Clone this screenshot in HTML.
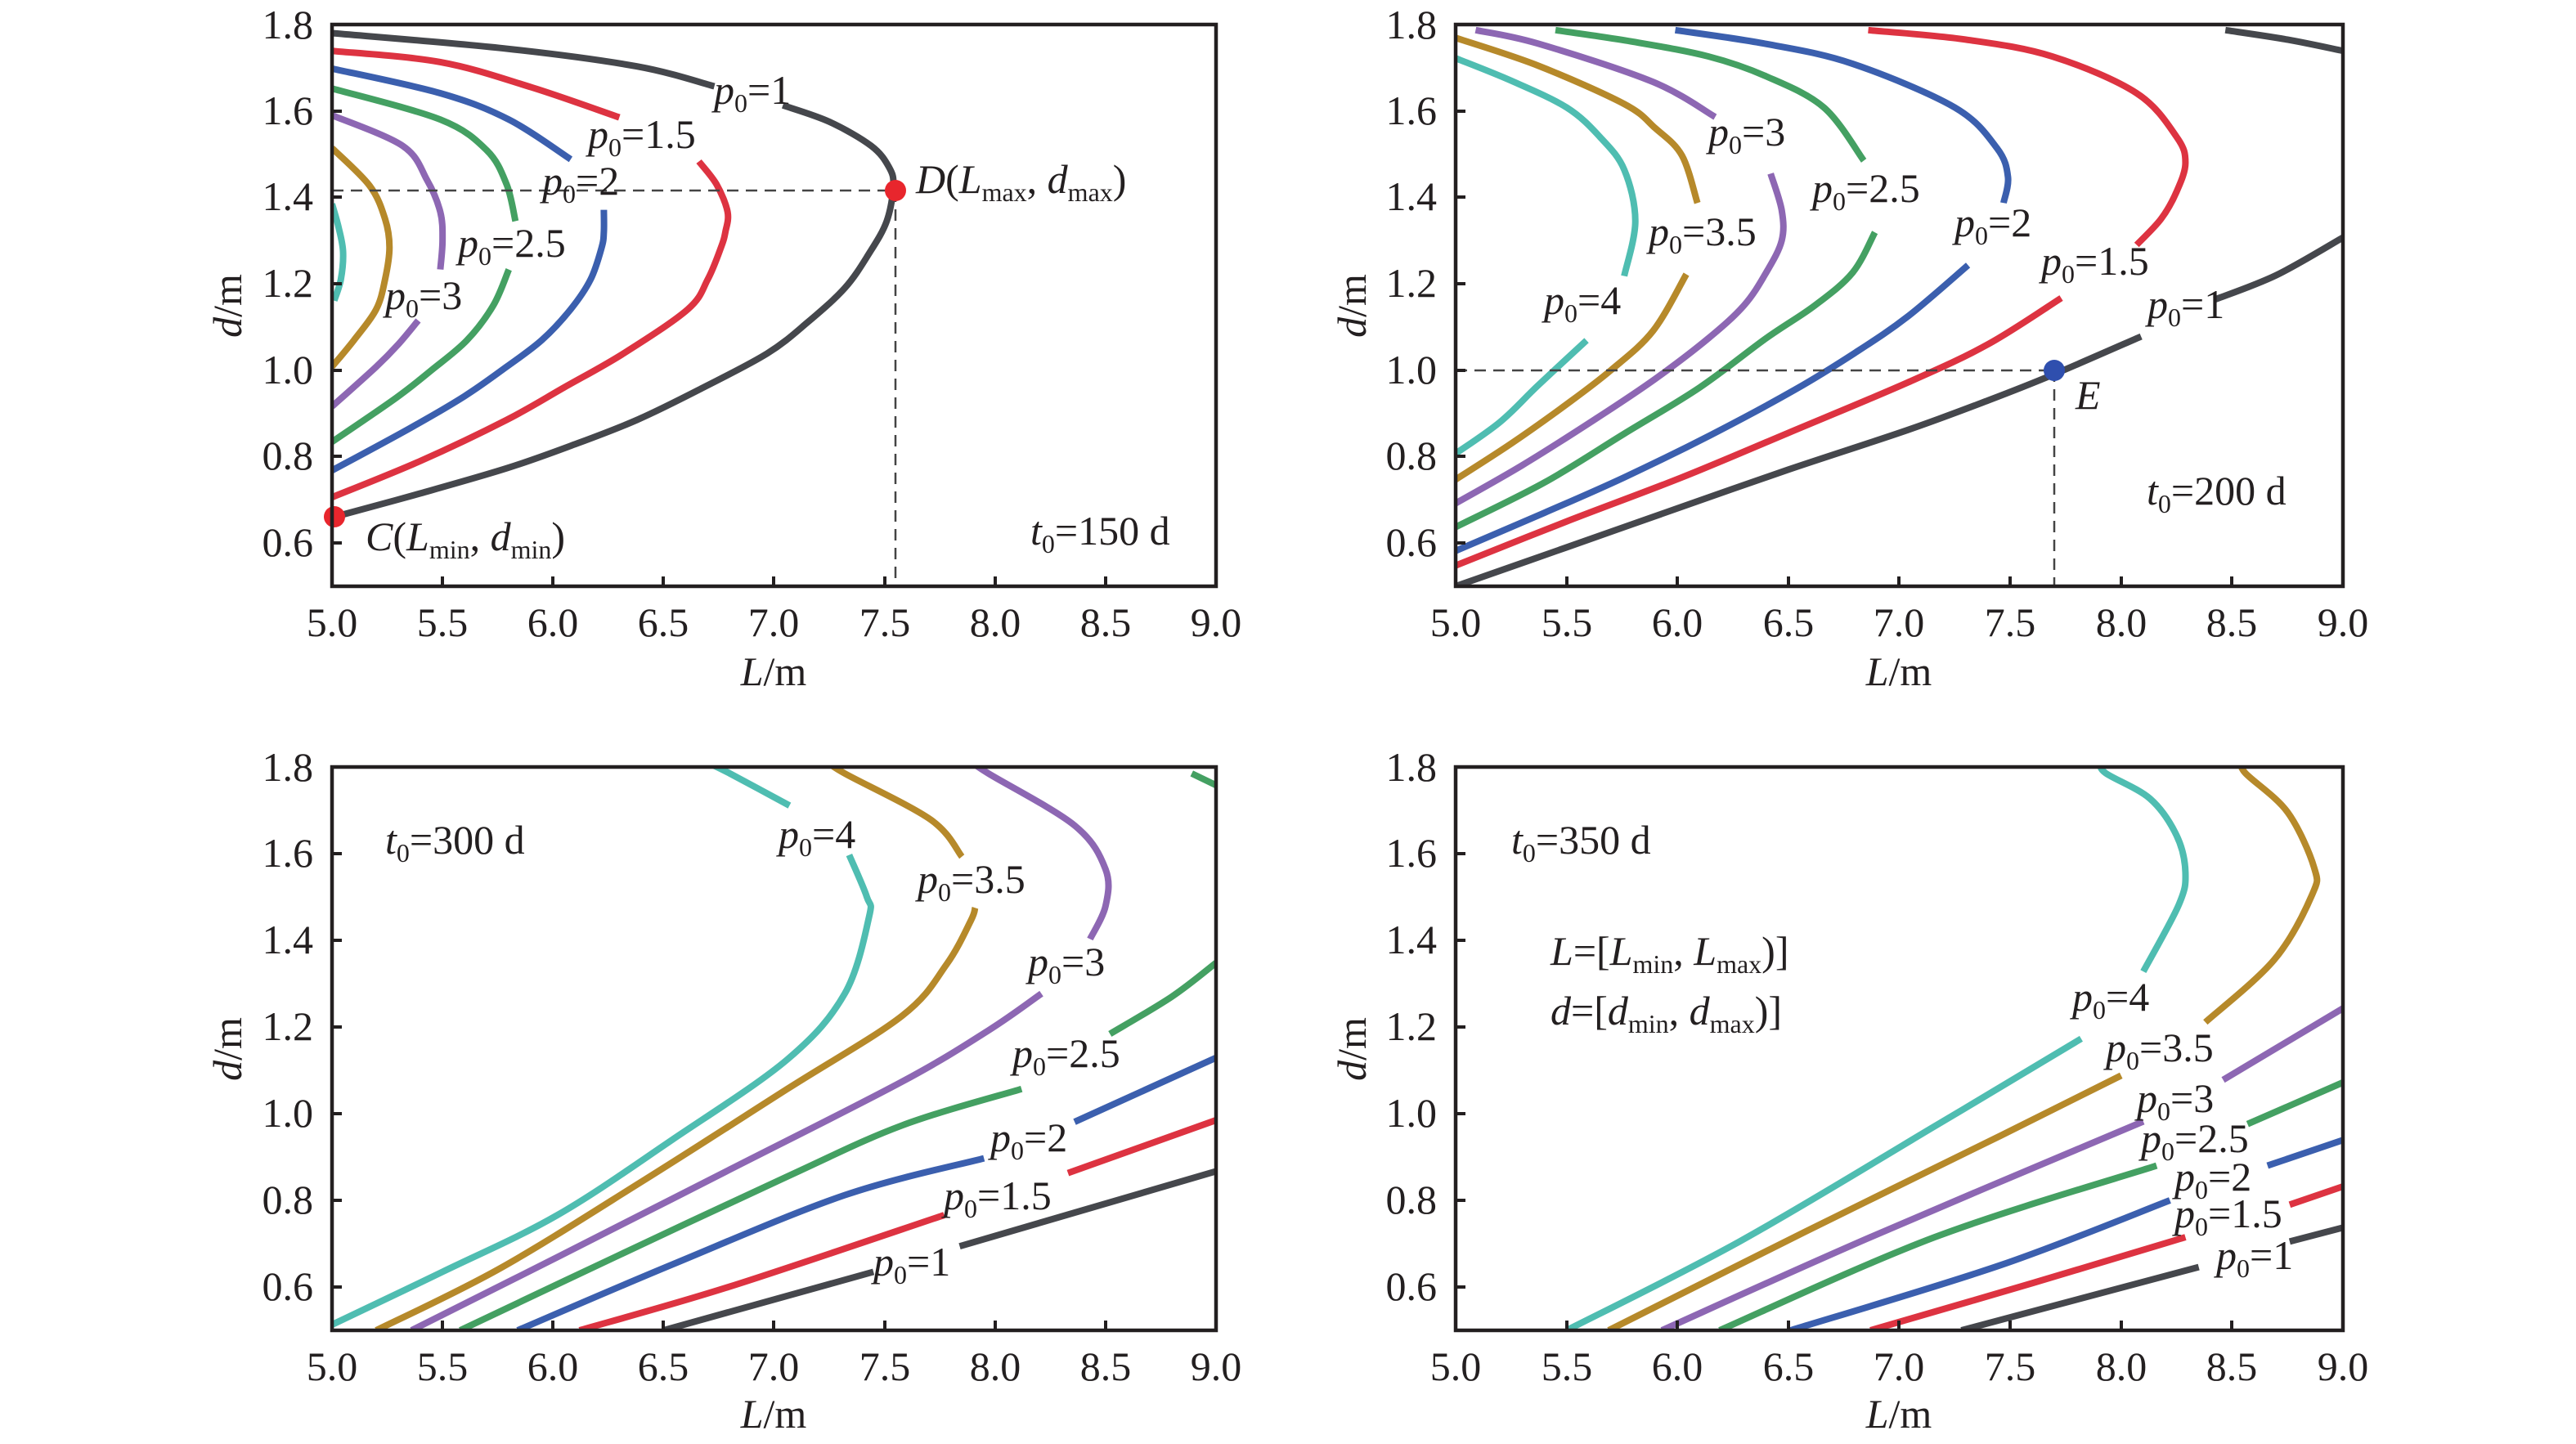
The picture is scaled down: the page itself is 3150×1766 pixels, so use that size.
<!DOCTYPE html>
<html><head><meta charset="utf-8"><style>
html,body{margin:0;padding:0;background:#fff;}
svg{display:block;}
text{font-family:"Liberation Serif","Times New Roman",serif;fill:#231f20;}
.t{font-size:50px;}
.lb{font-size:50px;}
.c{fill:none;stroke-width:8;stroke-linejoin:round;stroke-linecap:butt;vector-effect:non-scaling-stroke;}
.k{stroke:#45474c}.r{stroke:#dd3341}.b{stroke:#3b5fae}.g{stroke:#44a062}.p{stroke:#8d67b3}.o{stroke:#b6892a}.q{stroke:#4fbdb1}
.f{fill:none;stroke:#231f20;stroke-width:4.5;}
.d{fill:none;stroke:#444;stroke-width:2.5;stroke-dasharray:14 9;}
</style></head><body>
<svg id="s" width="3150" height="1766" viewBox="0 0 3150 1766" xmlns="http://www.w3.org/2000/svg">
<defs>
<clipPath id="cp" clipPathUnits="userSpaceOnUse"><rect x="5" y="0.5" width="4" height="1.3"/></clipPath>
</defs>

<!-- Panel 1 -->
<g transform="translate(406,717) scale(270.25,-528.5) translate(-5,-0.5)" clip-path="url(#cp)">
<polyline class="c k" points="5,1.78 5.79,1.744 6.38,1.703 6.73,1.657"/>
<polyline class="c k" points="7.04,1.613 7.25,1.575 7.44,1.519 7.52,1.47 7.54,1.427 7.51,1.345 7.43,1.27 7.32,1.19 7.15,1.11 6.97,1.039 6.68,0.96 6.38,0.885 6.08,0.825 5.79,0.773 5.4,0.715 5.05,0.666"/>
<polyline class="c r" points="5,1.739 5.49,1.713 5.9,1.655 6.3,1.585"/>
<polyline class="c r" points="6.66,1.483 6.74,1.43 6.79,1.366 6.78,1.32 6.76,1.284 6.7,1.21 6.61,1.141 6.32,1.039 6.05,0.96 5.79,0.885 5.4,0.79 5,0.706"/>
<polyline class="c b" points="5,1.698 5.49,1.641 5.8,1.58 6.08,1.488"/>
<polyline class="c b" points="6.23,1.371 6.23,1.32 6.22,1.284 6.17,1.21 6.08,1.141 5.95,1.07 5.79,1.008 5.6,0.94 5.35,0.865 5,0.768"/>
<polyline class="c g" points="5,1.652 5.49,1.58 5.7,1.509 5.79,1.43 5.83,1.345"/>
<polyline class="c g" points="5.8,1.233 5.73,1.15 5.61,1.069 5.45,1.0 5.29,0.936 5,0.834"/>
<polyline class="c p" points="5,1.59 5.32,1.519 5.43,1.44 5.49,1.366 5.5,1.3 5.49,1.233"/>
<polyline class="c p" points="5.39,1.115 5.3,1.06 5.2,1.008 5,0.916"/>
<polyline class="c o" points="5,1.514 5.17,1.427 5.24,1.35 5.26,1.284 5.24,1.21 5.2,1.141 5.1,1.07 5,1.008"/>
<polyline class="c q" points="5,1.385 5.03,1.33 5.05,1.274 5.04,1.21 5.01,1.161"/>
</g>
<polyline class="d" points="406,233 1095,233"/>
<polyline class="d" points="1095,233 1095,717"/>
<circle cx="1095" cy="233" r="13" fill="#e8262d"/>
<circle cx="409" cy="632" r="13" fill="#e8262d"/>
<rect class="f" x="406" y="30" width="1081" height="687"/>

<!-- Panel 2 -->
<g transform="translate(1780,717) scale(271.25,-528.5) translate(-5,-0.5)" clip-path="url(#cp)">
<polyline class="c k" points="5,0.5 5.5,0.59 6.02,0.684 6.5,0.77 7.04,0.862 7.4,0.93 7.69,0.989 8.09,1.078"/>
<polyline class="c k" points="8.42,1.163 8.7,1.22 9,1.307"/>
<polyline class="c k" points="8.47,1.787 8.75,1.765 9,1.739"/>
<polyline class="c r" points="5,0.548 5.5,0.65 6.02,0.752 6.5,0.855 7.04,0.972 7.4,1.06 7.73,1.167"/>
<polyline class="c r" points="8.07,1.29 8.18,1.35 8.25,1.413 8.29,1.48 8.25,1.54 8.07,1.641 7.69,1.726 7.3,1.765 6.86,1.787"/>
<polyline class="c b" points="5,0.582 5.4,0.67 5.76,0.752 6.15,0.85 6.53,0.955 6.8,1.04 7.04,1.125 7.31,1.243"/>
<polyline class="c b" points="7.47,1.387 7.49,1.447 7.44,1.514 7.25,1.608 6.79,1.709 6.4,1.755 5.99,1.787"/>
<polyline class="c g" points="5,0.637 5.4,0.74 5.76,0.853 6.1,0.96 6.4,1.074 6.62,1.15 6.79,1.226 6.89,1.319"/>
<polyline class="c g" points="6.84,1.485 6.66,1.608 6.4,1.68 6.14,1.726 5.8,1.76 5.45,1.787"/>
<polyline class="c p" points="5,0.692 5.3,0.78 5.63,0.887 5.9,0.98 6.14,1.074 6.3,1.15 6.4,1.226 6.47,1.3 6.47,1.37 6.42,1.455"/>
<polyline class="c p" points="6.17,1.586 5.89,1.667 5.37,1.756 5.09,1.787"/>
<polyline class="c o" points="5,0.747 5.25,0.83 5.5,0.921 5.7,1.0 5.89,1.091 6.04,1.222"/>
<polyline class="c o" points="6.09,1.387 6.02,1.497 5.9,1.56 5.76,1.616 5.37,1.705 5,1.769"/>
<polyline class="c q" points="5,0.807 5.2,0.88 5.37,0.964 5.59,1.069"/>
<polyline class="c q" points="5.76,1.218 5.81,1.345 5.76,1.464 5.65,1.54 5.5,1.608 5.25,1.67 5,1.722"/>
</g>
<polyline class="d" points="1780,453 2512,453"/>
<polyline class="d" points="2512,453 2512,717"/>
<circle cx="2512" cy="453" r="13" fill="#2f4fae"/>
<rect class="f" x="1780" y="30" width="1085" height="687"/>

<!-- Panel 3 -->
<g transform="translate(406,1627) scale(270.25,-530) translate(-5,-0.5)" clip-path="url(#cp)">
<polyline class="c q" points="5,0.513 5.5,0.635 6.02,0.766 6.54,0.94 7.06,1.125 7.32,1.277 7.43,1.454 7.42,1.5 7.34,1.597"/>
<polyline class="c q" points="7.07,1.711 6.8,1.785 6.7,1.81"/>
<polyline class="c o" points="5.2,0.5 5.76,0.643 6.41,0.846 7.06,1.057 7.58,1.226 7.78,1.344 7.89,1.445 7.91,1.475"/>
<polyline class="c o" points="7.85,1.593 7.71,1.678 7.32,1.785 7.25,1.81"/>
<polyline class="c p" points="5.36,0.5 6.02,0.669 6.8,0.871 7.58,1.074 7.97,1.192 8.21,1.277"/>
<polyline class="c p" points="8.43,1.403 8.5,1.479 8.5,1.564 8.36,1.665 7.97,1.785 7.9,1.81"/>
<polyline class="c g" points="5.58,0.5 6.28,0.669 7.06,0.855 7.58,0.973 8.12,1.057"/>
<polyline class="c g" points="8.52,1.184 8.8,1.27 9,1.348"/>
<polyline class="c g" points="8.89,1.785 9,1.758"/>
<polyline class="c b" points="5.84,0.5 6.54,0.652 7.32,0.812 7.95,0.897"/>
<polyline class="c b" points="8.36,0.981 9,1.129"/>
<polyline class="c r" points="6.12,0.5 6.8,0.601 7.77,0.766"/>
<polyline class="c r" points="8.33,0.863 9,0.985"/>
<polyline class="c k" points="6.5,0.5 7.45,0.635"/>
<polyline class="c k" points="7.84,0.694 9,0.867"/>
</g>
<rect class="f" x="406" y="938" width="1081" height="689"/>

<!-- Panel 4 -->
<g transform="translate(1780,1627) scale(271.25,-530) translate(-5,-0.5)" clip-path="url(#cp)">
<polyline class="c q" points="5.5,0.5 6.28,0.705 7.16,0.971 7.82,1.173"/>
<polyline class="c q" points="8.1,1.328 8.26,1.482 8.29,1.557 8.25,1.642 8.13,1.727 7.93,1.786 7.91,1.81"/>
<polyline class="c o" points="5.69,0.5 6.57,0.726 7.46,0.95 8,1.088"/>
<polyline class="c o" points="8.38,1.211 8.69,1.355 8.86,1.504 8.87,1.568 8.75,1.696 8.56,1.786 8.55,1.81"/>
<polyline class="c p" points="5.93,0.5 6.87,0.715 8.1,0.982"/>
<polyline class="c p" points="8.46,1.078 9,1.243"/>
<polyline class="c g" points="6.19,0.5 7.16,0.715 8.16,0.88"/>
<polyline class="c g" points="8.57,0.976 9,1.072"/>
<polyline class="c b" points="6.51,0.5 7.46,0.651 8.22,0.8"/>
<polyline class="c b" points="8.66,0.88 9,0.939"/>
<polyline class="c r" points="6.87,0.5 7.6,0.609 8.29,0.715"/>
<polyline class="c r" points="8.76,0.79 9,0.832"/>
<polyline class="c k" points="7.28,0.5 8.35,0.646"/>
<polyline class="c k" points="8.76,0.705 9,0.737"/>
</g>
<rect class="f" x="1780" y="938" width="1085" height="689"/>

<!-- ticks -->
<g stroke="#231f20" stroke-width="4">
<path d="M541,717v-12M676,717v-12M811,717v-12M946,717v-12M1082,717v-12M1217,717v-12M1352,717v-12
M406,664h12M406,558h12M406,453h12M406,347h12M406,241h12M406,136h12"/>
<path d="M1916,717v-12M2051,717v-12M2187,717v-12M2322,717v-12M2458,717v-12M2594,717v-12M2729,717v-12
M1780,664h12M1780,558h12M1780,453h12M1780,347h12M1780,241h12M1780,136h12"/>
<path d="M541,1627v-12M676,1627v-12M811,1627v-12M946,1627v-12M1082,1627v-12M1217,1627v-12M1352,1627v-12
M406,1574h12M406,1468h12M406,1362h12M406,1256h12M406,1150h12M406,1044h12"/>
<path d="M1916,1627v-12M2051,1627v-12M2187,1627v-12M2322,1627v-12M2458,1627v-12M2594,1627v-12M2729,1627v-12
M1780,1574h12M1780,1468h12M1780,1362h12M1780,1256h12M1780,1150h12M1780,1044h12"/>
</g>

<!-- tick labels -->
<g class="t" text-anchor="middle">
<text x="406" y="778">5.0</text><text x="541" y="778">5.5</text><text x="676" y="778">6.0</text><text x="811" y="778">6.5</text><text x="946" y="778">7.0</text><text x="1082" y="778">7.5</text><text x="1217" y="778">8.0</text><text x="1352" y="778">8.5</text><text x="1487" y="778">9.0</text>
<text x="1780" y="778">5.0</text><text x="1916" y="778">5.5</text><text x="2051" y="778">6.0</text><text x="2187" y="778">6.5</text><text x="2322" y="778">7.0</text><text x="2458" y="778">7.5</text><text x="2594" y="778">8.0</text><text x="2729" y="778">8.5</text><text x="2865" y="778">9.0</text>
<text x="406" y="1688">5.0</text><text x="541" y="1688">5.5</text><text x="676" y="1688">6.0</text><text x="811" y="1688">6.5</text><text x="946" y="1688">7.0</text><text x="1082" y="1688">7.5</text><text x="1217" y="1688">8.0</text><text x="1352" y="1688">8.5</text><text x="1487" y="1688">9.0</text>
<text x="1780" y="1688">5.0</text><text x="1916" y="1688">5.5</text><text x="2051" y="1688">6.0</text><text x="2187" y="1688">6.5</text><text x="2322" y="1688">7.0</text><text x="2458" y="1688">7.5</text><text x="2594" y="1688">8.0</text><text x="2729" y="1688">8.5</text><text x="2865" y="1688">9.0</text>
</g>
<g class="t" text-anchor="end">
<text x="383" y="680">0.6</text><text x="383" y="574">0.8</text><text x="383" y="469">1.0</text><text x="383" y="363">1.2</text><text x="383" y="257">1.4</text><text x="383" y="152">1.6</text><text x="383" y="47">1.8</text>
<text x="1757" y="680">0.6</text><text x="1757" y="574">0.8</text><text x="1757" y="469">1.0</text><text x="1757" y="363">1.2</text><text x="1757" y="257">1.4</text><text x="1757" y="152">1.6</text><text x="1757" y="47">1.8</text>
<text x="383" y="1590">0.6</text><text x="383" y="1484">0.8</text><text x="383" y="1378">1.0</text><text x="383" y="1272">1.2</text><text x="383" y="1166">1.4</text><text x="383" y="1060">1.6</text><text x="383" y="955">1.8</text>
<text x="1757" y="1590">0.6</text><text x="1757" y="1484">0.8</text><text x="1757" y="1378">1.0</text><text x="1757" y="1272">1.2</text><text x="1757" y="1166">1.4</text><text x="1757" y="1060">1.6</text><text x="1757" y="955">1.8</text>
</g>

<!-- axis titles -->
<g class="t" text-anchor="middle">
<text x="946" y="838"><tspan font-style="italic">L</tspan>/m</text>
<text x="2322" y="838"><tspan font-style="italic">L</tspan>/m</text>
<text x="946" y="1746"><tspan font-style="italic">L</tspan>/m</text>
<text x="2322" y="1746"><tspan font-style="italic">L</tspan>/m</text>
<text transform="translate(295,374) rotate(-90)"><tspan font-style="italic">d</tspan>/m</text>
<text transform="translate(1670,374) rotate(-90)"><tspan font-style="italic">d</tspan>/m</text>
<text transform="translate(295,1283) rotate(-90)"><tspan font-style="italic">d</tspan>/m</text>
<text transform="translate(1670,1283) rotate(-90)"><tspan font-style="italic">d</tspan>/m</text>
</g>

<!-- curve labels -->
<g class="lb">
<text x="873" y="127"><tspan font-style="italic">p</tspan><tspan font-size="32" dy="10">0</tspan><tspan dy="-10">=1</tspan></text>
<text x="719" y="181"><tspan font-style="italic">p</tspan><tspan font-size="32" dy="10">0</tspan><tspan dy="-10">=1.5</tspan></text>
<text x="663" y="238"><tspan font-style="italic">p</tspan><tspan font-size="32" dy="10">0</tspan><tspan dy="-10">=2</tspan></text>
<text x="560" y="314"><tspan font-style="italic">p</tspan><tspan font-size="32" dy="10">0</tspan><tspan dy="-10">=2.5</tspan></text>
<text x="471" y="378"><tspan font-style="italic">p</tspan><tspan font-size="32" dy="10">0</tspan><tspan dy="-10">=3</tspan></text>
<text x="1120" y="236"><tspan font-style="italic">D</tspan>(<tspan font-style="italic">L</tspan><tspan font-size="32" dy="10">max</tspan><tspan dy="-10">, </tspan><tspan font-style="italic">d</tspan><tspan font-size="32" dy="10">max</tspan><tspan dy="-10">)</tspan></text>
<text x="447" y="673"><tspan font-style="italic">C</tspan>(<tspan font-style="italic">L</tspan><tspan font-size="32" dy="10">min</tspan><tspan dy="-10">, </tspan><tspan font-style="italic">d</tspan><tspan font-size="32" dy="10">min</tspan><tspan dy="-10">)</tspan></text>
<text x="1260" y="666"><tspan font-style="italic">t</tspan><tspan font-size="32" dy="10">0</tspan><tspan dy="-10">=150 d</tspan></text>
<text x="2089" y="178"><tspan font-style="italic">p</tspan><tspan font-size="32" dy="10">0</tspan><tspan dy="-10">=3</tspan></text>
<text x="2216" y="247"><tspan font-style="italic">p</tspan><tspan font-size="32" dy="10">0</tspan><tspan dy="-10">=2.5</tspan></text>
<text x="2390" y="289"><tspan font-style="italic">p</tspan><tspan font-size="32" dy="10">0</tspan><tspan dy="-10">=2</tspan></text>
<text x="2496" y="336"><tspan font-style="italic">p</tspan><tspan font-size="32" dy="10">0</tspan><tspan dy="-10">=1.5</tspan></text>
<text x="2626" y="389"><tspan font-style="italic">p</tspan><tspan font-size="32" dy="10">0</tspan><tspan dy="-10">=1</tspan></text>
<text x="2016" y="300"><tspan font-style="italic">p</tspan><tspan font-size="32" dy="10">0</tspan><tspan dy="-10">=3.5</tspan></text>
<text x="1888" y="384"><tspan font-style="italic">p</tspan><tspan font-size="32" dy="10">0</tspan><tspan dy="-10">=4</tspan></text>
<text x="2538" y="500" font-style="italic">E</text>
<text x="2625" y="617"><tspan font-style="italic">t</tspan><tspan font-size="32" dy="10">0</tspan><tspan dy="-10">=200 d</tspan></text>
<text x="471" y="1044"><tspan font-style="italic">t</tspan><tspan font-size="32" dy="10">0</tspan><tspan dy="-10">=300 d</tspan></text>
<text x="952" y="1037"><tspan font-style="italic">p</tspan><tspan font-size="32" dy="10">0</tspan><tspan dy="-10">=4</tspan></text>
<text x="1122" y="1092"><tspan font-style="italic">p</tspan><tspan font-size="32" dy="10">0</tspan><tspan dy="-10">=3.5</tspan></text>
<text x="1257" y="1193"><tspan font-style="italic">p</tspan><tspan font-size="32" dy="10">0</tspan><tspan dy="-10">=3</tspan></text>
<text x="1238" y="1305"><tspan font-style="italic">p</tspan><tspan font-size="32" dy="10">0</tspan><tspan dy="-10">=2.5</tspan></text>
<text x="1211" y="1408"><tspan font-style="italic">p</tspan><tspan font-size="32" dy="10">0</tspan><tspan dy="-10">=2</tspan></text>
<text x="1154" y="1479"><tspan font-style="italic">p</tspan><tspan font-size="32" dy="10">0</tspan><tspan dy="-10">=1.5</tspan></text>
<text x="1068" y="1560"><tspan font-style="italic">p</tspan><tspan font-size="32" dy="10">0</tspan><tspan dy="-10">=1</tspan></text>
<text x="1848" y="1044"><tspan font-style="italic">t</tspan><tspan font-size="32" dy="10">0</tspan><tspan dy="-10">=350 d</tspan></text>
<text x="1896" y="1180"><tspan font-style="italic">L</tspan>=[<tspan font-style="italic">L</tspan><tspan font-size="32" dy="10">min</tspan><tspan dy="-10">, </tspan><tspan font-style="italic">L</tspan><tspan font-size="32" dy="10">max</tspan><tspan dy="-10">)]</tspan></text>
<text x="1896" y="1253"><tspan font-style="italic">d</tspan>=[<tspan font-style="italic">d</tspan><tspan font-size="32" dy="10">min</tspan><tspan dy="-10">, </tspan><tspan font-style="italic">d</tspan><tspan font-size="32" dy="10">max</tspan><tspan dy="-10">)]</tspan></text>
<text x="2534" y="1236"><tspan font-style="italic">p</tspan><tspan font-size="32" dy="10">0</tspan><tspan dy="-10">=4</tspan></text>
<text x="2575" y="1298"><tspan font-style="italic">p</tspan><tspan font-size="32" dy="10">0</tspan><tspan dy="-10">=3.5</tspan></text>
<text x="2613" y="1360"><tspan font-style="italic">p</tspan><tspan font-size="32" dy="10">0</tspan><tspan dy="-10">=3</tspan></text>
<text x="2618" y="1409"><tspan font-style="italic">p</tspan><tspan font-size="32" dy="10">0</tspan><tspan dy="-10">=2.5</tspan></text>
<text x="2659" y="1456"><tspan font-style="italic">p</tspan><tspan font-size="32" dy="10">0</tspan><tspan dy="-10">=2</tspan></text>
<text x="2659" y="1501"><tspan font-style="italic">p</tspan><tspan font-size="32" dy="10">0</tspan><tspan dy="-10">=1.5</tspan></text>
<text x="2710" y="1552"><tspan font-style="italic">p</tspan><tspan font-size="32" dy="10">0</tspan><tspan dy="-10">=1</tspan></text>
</g>
</svg>
<script>
(function(){
  var NS="http://www.w3.org/2000/svg";
  var pls=document.querySelectorAll("polyline.c");
  for(var i=0;i<pls.length;i++){
    var pl=pls[i];
    var pts=pl.getAttribute("points").trim().split(/\s+/).map(function(s){var a=s.split(",");return [parseFloat(a[0]),parseFloat(a[1])];});
    if(pts.length<3) continue;
    var d="M"+pts[0][0]+","+pts[0][1];
    for(var j=0;j<pts.length-1;j++){
      var p0=pts[j>0?j-1:0],p1=pts[j],p2=pts[j+1],p3=pts[j+2<pts.length?j+2:pts.length-1];
      var c1x=p1[0]+(p2[0]-p0[0])/6,c1y=p1[1]+(p2[1]-p0[1])/6;
      var c2x=p2[0]-(p3[0]-p1[0])/6,c2y=p2[1]-(p3[1]-p1[1])/6;
      d+=" C"+c1x+","+c1y+" "+c2x+","+c2y+" "+p2[0]+","+p2[1];
    }
    var path=document.createElementNS(NS,"path");
    path.setAttribute("d",d);
    path.setAttribute("class",pl.getAttribute("class"));
    pl.parentNode.replaceChild(path,pl);
  }
})();
</script>
</body></html>
